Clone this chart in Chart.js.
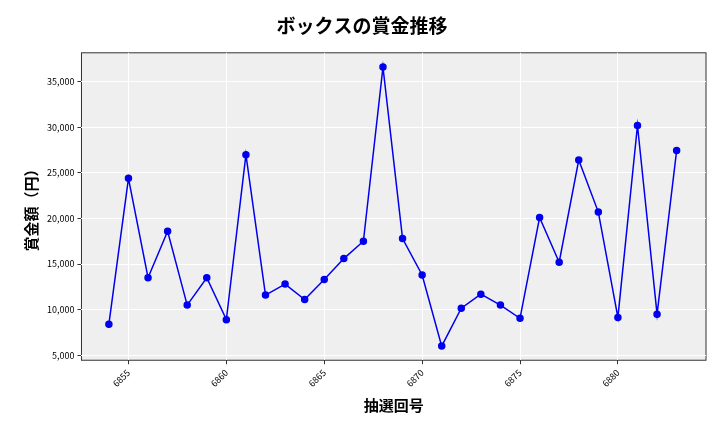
<!DOCTYPE html>
<html>
<head>
<meta charset="utf-8">
<script src="https://cdn.jsdelivr.net/npm/chart.js@4"></script>
<style>
  body { margin: 0; background: #fff; }
  #wrap { width: 720px; height: 432px; }
</style>
</head>
<body>
<div id="wrap"><canvas id="c"></canvas></div>
<script>
// 抽選回号と賞金額
const drawNumbers = [6854, 6855, 6856, 6857, 6858, 6859, 6860, 6861, 6862, 6863,
  6864, 6865, 6866, 6867, 6868, 6869, 6870, 6871, 6872, 6873,
  6874, 6875, 6876, 6877, 6878, 6879, 6880, 6881, 6882, 6883];
const prizes = [8400, 24400, 13500, 18600, 10500, 13500, 8900, 27000, 11600, 12800,
  11100, 13300, 15600, 17500, 36600, 17800, 13800, 6000, 10150, 11700,
  10500, 9050, 20100, 15200, 26400, 20700, 9150, 30200, 9500, 27450];

const fontFamily = '"Noto Sans CJK JP", "Noto Sans", sans-serif';

// 背景プラグイン（プロットエリアをグレーに）
const plotBg = {
  id: 'plotBg',
  beforeDraw(chart) {
    const { ctx, chartArea: a } = chart;
    ctx.save();
    ctx.fillStyle = '#efefef';
    ctx.fillRect(a.left, a.top, a.right - a.left, a.bottom - a.top);
    ctx.strokeStyle = '#333';
    ctx.lineWidth = 1;
    ctx.strokeRect(a.left, a.top, a.right - a.left, a.bottom - a.top);
    ctx.restore();
  }
};

new Chart(document.getElementById('c'), {
  type: 'line',
  data: {
    datasets: [{
      data: drawNumbers.map((x, i) => ({ x: x, y: prizes[i] })),
      borderColor: '#0000ee',
      backgroundColor: '#0000ee',
      borderWidth: 1.5,
      pointRadius: 3,
      tension: 0
    }]
  },
  options: {
    responsive: true,
    maintainAspectRatio: false,
    animation: false,
    layout: { padding: { left: 18, right: 14, top: 10, bottom: 14 } },
    plugins: {
      legend: { display: false },
      title: {
        display: true,
        text: 'ボックスの賞金推移',
        color: '#000',
        font: { family: fontFamily, size: 19, weight: 'bold' },
        padding: { top: 4, bottom: 16 }
      }
    },
    scales: {
      x: {
        type: 'linear',
        min: 6852.6,
        max: 6884.5,
        afterBuildTicks: axis => {
          axis.ticks = [6855, 6860, 6865, 6870, 6875, 6880].map(v => ({ value: v }));
        },
        grid: { color: '#ffffff', lineWidth: 1, drawTicks: true, tickColor: '#333', tickLength: 4 },
        border: { display: false },
        ticks: {
          color: '#000',
          font: { family: fontFamily, size: 9 },
          maxRotation: 45,
          minRotation: 45,
          callback: v => String(v)
        },
        title: {
          display: true,
          text: '抽選回号',
          color: '#000',
          font: { family: fontFamily, size: 15, weight: 'bold' }
        }
      },
      y: {
        min: 4450,
        max: 38170,
        afterBuildTicks: axis => {
          axis.ticks = [5000, 10000, 15000, 20000, 25000, 30000, 35000].map(v => ({ value: v }));
        },
        grid: { color: '#ffffff', lineWidth: 1, drawTicks: true, tickColor: '#333', tickLength: 4 },
        border: { display: false },
        ticks: {
          color: '#000',
          font: { family: fontFamily, size: 9 },
          callback: v => v.toLocaleString('en-US')
        },
        title: {
          display: true,
          text: '賞金額（円）',
          color: '#000',
          font: { family: fontFamily, size: 15, weight: 'bold' }
        }
      }
    }
  },
  plugins: [plotBg]
});
</script>
</body>
</html>
